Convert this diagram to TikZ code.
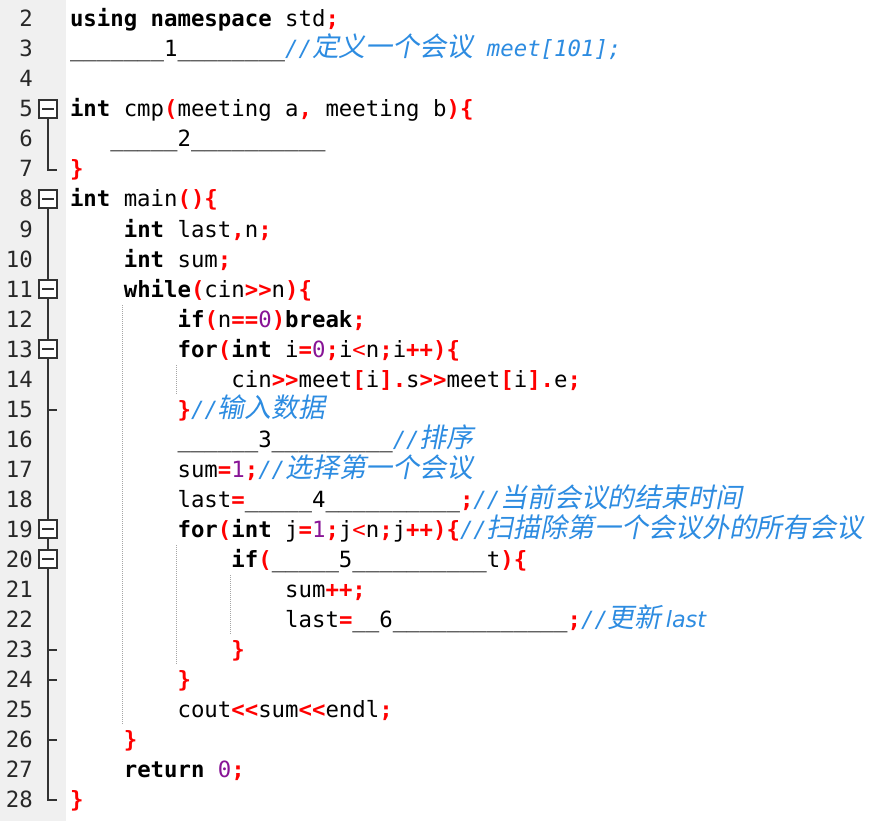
\documentclass[tikz,border=0pt]{standalone}
\usepackage{fontspec}
\setmonofont{DejaVu Sans Mono}
\newfontfamily\zhfont[FakeSlant=0.2]{Noto Sans CJK SC}
\newfontfamily\psans{DejaVu Sans}
\definecolor{opr}{RGB}{255,0,0}
\definecolor{nump}{RGB}{136,20,150}
\definecolor{cmt}{RGB}{45,140,225}
\definecolor{gutter}{RGB}{240,240,240}
\definecolor{lnc}{RGB}{40,40,40}
\definecolor{foldc}{RGB}{50,50,50}
\definecolor{guide}{RGB}{165,165,165}
\newcommand\codefont{\ttfamily\fontsize{22.34pt}{30pt}\selectfont}
\newcommand\zh[1]{{\color{cmt}\zhfont\fontsize{26.9pt}{30pt}\selectfont #1}}
\newcommand\cm[1]{{\color{cmt}\itshape #1}}
\newcommand\op[1]{{\color{opr}\bfseries #1}}
\newcommand\opl[1]{{\color{opr}#1}}
\newcommand\kw[1]{{\bfseries #1}}
\newcommand\nm[1]{{\color{nump}#1}}
\newcommand\GG{>\kern0pt>}
\newcommand\LL{<\kern0pt<}
\begin{document}
\begin{tikzpicture}[x=1pt,y=-1pt,
  codeline/.style={anchor=base west,inner sep=0pt,outer sep=0pt,font=\codefont,text=black},
  lnum/.style={anchor=base east,inner sep=0pt,font=\codefont,text=lnc},
  foldbox/.style={draw=foldc,line width=1.2pt,fill=white,minimum size=18pt,inner sep=0pt,
    path picture={\draw[foldc,line width=1.4pt] ([xshift=-6pt]path picture bounding box.center) -- ([xshift=6pt]path picture bounding box.center);}},
  foldline/.style={draw=foldc,line width=1.3pt},
  guideline/.style={draw=guide,line width=1pt,dash pattern=on 1pt off 1pt}
]
\useasboundingbox (0,0) rectangle (878,821);
\fill[white] (0,0) rectangle (878,821);
\fill[gutter] (0,0) rectangle (66,821);

% line numbers
\foreach \k in {2,...,28} {
  \node[lnum] (n\k) at (33,{27+(\k-2)*30}) {\k};
}

% code lines (column width 13.45)
\node[codeline] (c2) at (70,27) {\kw{using} \kw{namespace} std\op{;}};
\node[codeline] (c3) at (70,57) {\_\_\_\_\_\_\_1\_\_\_\_\_\_\_\_\cm{//}\zh{定义一个会议}\cm{ meet[101];}};
\node[codeline] (c5) at (70,117) {\kw{int} cmp\op{(}meeting a\op{,} meeting b\op{)\{}};
\node[codeline] (c6) at ({70+3*13.45},147) {\_\_\_\_\_2\_\_\_\_\_\_\_\_\_\_};
\node[codeline] (c7) at (70,177) {\op{\}}};
\node[codeline] (c8) at (70,207) {\kw{int} main\op{()\{}};
\node[codeline] (c9) at ({70+4*13.45},237) {\kw{int} last\op{,}n\op{;}};
\node[codeline] (c10) at ({70+4*13.45},267) {\kw{int} sum\op{;}};
\node[codeline] (c11) at ({70+4*13.45},297) {\kw{while}\op{(}cin\op{\GG}n\op{)\{}};
\node[codeline] (c12) at ({70+8*13.45},327) {\kw{if}\op{(}n\op{==}\nm{0}\op{)}\kw{break}\op{;}};
\node[codeline] (c13) at ({70+8*13.45},357) {\kw{for}\op{(}\kw{int} i\op{=}\nm{0}\op{;}i\opl{<}n\op{;}i\op{++)\{}};
\node[codeline] (c14) at ({70+12*13.45},387) {cin\op{\GG}meet\op{[}i\op{].}s\op{\GG}meet\op{[}i\op{].}e\op{;}};
\node[codeline] (c15) at ({70+8*13.45},417) {\op{\}}\cm{//}\zh{输入数据}};
\node[codeline] (c16) at ({70+8*13.45},447) {\_\_\_\_\_\_3\_\_\_\_\_\_\_\_\_\cm{//}\zh{排序}};
\node[codeline] (c17) at ({70+8*13.45},477) {sum\op{=}\nm{1}\op{;}\cm{//}\zh{选择第一个会议}};
\node[codeline] (c18) at ({70+8*13.45},507) {last\op{=}\_\_\_\_\_4\_\_\_\_\_\_\_\_\_\_\op{;}\cm{//}\zh{当前会议的结束时间}};
\node[codeline] (c19) at ({70+8*13.45},537) {\kw{for}\op{(}\kw{int} j\op{=}\nm{1}\op{;}j\opl{<}n\op{;}j\op{++)\{}\cm{//}\zh{扫描除第一个会议外的所有会议}};
\node[codeline] (c20) at ({70+12*13.45},567) {\kw{if}\op{(}\_\_\_\_\_5\_\_\_\_\_\_\_\_\_\_t\op{)\{}};
\node[codeline] (c21) at ({70+16*13.45},597) {sum\op{++;}};
\node[codeline] (c22) at ({70+16*13.45},627) {last\op{=}\_\_6\_\_\_\_\_\_\_\_\_\_\_\_\_\op{;}\cm{//}\zh{更新}\kern4pt{\color{cmt}\psans\itshape last}};
\node[codeline] (c23) at ({70+12*13.45},657) {\op{\}}};
\node[codeline] (c24) at ({70+8*13.45},687) {\op{\}}};
\node[codeline] (c25) at ({70+8*13.45},717) {cout\op{\LL}sum\op{\LL}endl\op{;}};
\node[codeline] (c26) at ({70+4*13.45},747) {\op{\}}};
\node[codeline] (c27) at ({70+4*13.45},777) {\kw{return} \nm{0}\op{;}};
\node[codeline] (c28) at (70,807) {\op{\}}};

% indent guides
\draw[guideline] (122,305) -- (122,725);
\draw[guideline] (176,365) -- (176,395);
\draw[guideline] (176,545) -- (176,665);
\draw[guideline] (230,575) -- (230,635);

% fold markers
\node[foldbox] (f5) at (48,109) {};
\node[foldbox] (f8) at (48,199) {};
\node[foldbox] (f11) at (48,289) {};
\node[foldbox] (f13) at (48,349) {};
\node[foldbox] (f19) at (48,529) {};
\node[foldbox] (f20) at (48,559) {};
\coordinate (e7) at (48,170);
\coordinate (e28) at (48,800);
\coordinate (t15) at (48,410);
\coordinate (t23) at (48,650);
\coordinate (t24) at (48,680);
\coordinate (t26) at (48,740);
\draw[foldline] (f5.south) -- (e7) -- ++(9,0);
\draw[foldline] (f8.south) -- (f11.north);
\draw[foldline] (f11.south) -- (f13.north);
\draw[foldline] (f13.south) -- (f19.north);
\draw[foldline] (f19.south) -- (f20.north);
\draw[foldline] (f20.south) -- (e28) -- ++(9,0);
\draw[foldline] (t15) -- ++(9,0);
\draw[foldline] (t23) -- ++(9,0);
\draw[foldline] (t24) -- ++(9,0);
\draw[foldline] (t26) -- ++(9,0);
\end{tikzpicture}
\end{document}
